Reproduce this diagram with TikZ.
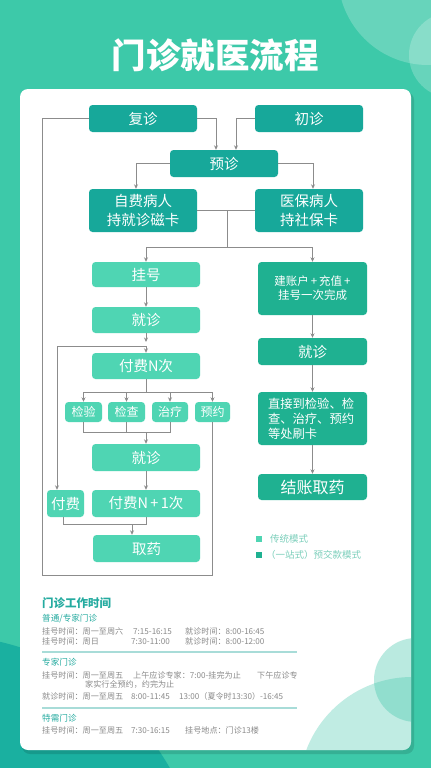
\documentclass[tikz,border=0pt]{standalone}
\usepackage{fontspec}
\setmainfont{Noto Sans CJK SC}
\usetikzlibrary{arrows.meta}
\definecolor{bgc}{HTML}{3DC9A9}
\definecolor{bgdark}{HTML}{1AB0A0}
\definecolor{topc}{HTML}{17A89A}
\definecolor{litec}{HTML}{4FD5B3}
\definecolor{rgtc}{HTML}{1FB191}
\definecolor{linec}{HTML}{8C8C8C}
\definecolor{headc}{HTML}{25ABA0}
\definecolor{greyt}{HTML}{8A8A8A}
\definecolor{legt}{HTML}{7CCFBB}
\definecolor{divc}{HTML}{A8DCD8}
\definecolor{mint}{HTML}{3CC4A8}
\begin{document}
\begin{tikzpicture}[x=1pt,y=-1pt,
  box/.style={rounded corners=3.5pt, inner sep=0pt, text=white, align=center,
    minimum width=108pt, minimum height=27pt, font=\fontsize{14.5}{19}\selectfont},
  tb/.style={box, fill=topc},
  lb/.style={box, fill=litec},
  rb/.style={box, fill=rgtc, minimum width=109pt},
  sb/.style={box, fill=litec, minimum width=36pt, minimum height=20pt, font=\fontsize{12}{14}\selectfont},
  ln/.style={draw=linec, line width=0.9pt},
  arr/.style={ln, -{Stealth[length=4.5pt,width=4pt]}},
  wt/.style={anchor=base west, inner sep=0pt, text=greyt, font=\fontsize{8.1}{9}\selectfont},
  wh/.style={anchor=base west, inner sep=0pt, text=headc, font=\fontsize{8.6}{10}\selectfont},
  lg/.style={anchor=base west, inner sep=0pt, text=legt, font=\fontsize{9.5}{11}\selectfont}
]
\useasboundingbox (0,0) rectangle (431,768);
% background
\fill[bgc] (0,0) rectangle (431,768);
\fill[bgdark] (-60,900) circle (265);
\fill[white,opacity=0.22] (428,-25) circle (90);
\fill[white,opacity=0.22] (452,55) circle (43);
% title
\node[text=white,font=\fontsize{34.5}{40}\selectfont\bfseries] (title) at (215,55) {门诊就医流程};
% card
\fill[black,opacity=0.12,rounded corners=8] (22,92) rectangle (414,754);
\fill[white,rounded corners=8] (20,89) rectangle (411,750);
\begin{scope}
\clip[rounded corners=8] (20,89) rectangle (411,750);
\fill[mint,opacity=0.32] (412,790) circle (113);
\fill[mint,opacity=0.35] (416,680) circle (42);
\end{scope}

% nodes
\node[tb] (fz) at (143,118.5) {复诊};
\node[tb] (cz) at (309,118.5) {初诊};
\node[tb] (yz) at (224,163.5) {预诊};
\node[tb,minimum height=43pt] (zf) at (143,210.5) {自费病人\\持就诊磁卡};
\node[tb,minimum height=43pt] (yb) at (309,210.5) {医保病人\\持社保卡};

\node[lb,minimum height=25pt] (gh) at (146,274.5) {挂号};
\node[lb,minimum height=26pt] (jz1) at (146,320) {就诊};
\node[lb,minimum height=26pt] (ff) at (146,366) {付费N次};
\node[sb,minimum width=37pt] (jy) at (83.5,412) {检验};
\node[sb,minimum width=37pt] (jc) at (126.5,412) {检查};
\node[sb] (zl) at (170,412) {治疗};
\node[sb,minimum width=35pt] (yy) at (212.5,412) {预约};
\node[lb] (jz2) at (146,457.5) {就诊};
\node[lb,minimum width=37pt] (fs) at (65.5,503.5) {付费};
\node[lb] (ff1) at (146,503.5) {付费N\,+\,1次};
\node[lb,minimum width=107pt] (qy) at (146.5,548.5) {取药};

\node[rb,minimum height=53pt,font=\fontsize{11.5}{14}\selectfont] (jzh) at (312.5,288.5) {建账户\,+\,充值\,+\\挂号一次完成};
\node[rb] (jzr) at (312.5,351.5) {就诊};
\node[rb,minimum height=53pt,align=left,font=\fontsize{12.3}{15}\selectfont] (zj) at (312.5,418.5) {\parbox{89pt}{直接到检验、检\\查、治疗、预约\\等处刷卡}};
\node[rb,minimum height=26pt,font=\fontsize{16}{19}\selectfont] (jy2) at (312.5,487) {结账取药};

% coordinates
\coordinate (xa) at (216,0);
\coordinate (xb) at (236,0);
\coordinate (xc) at (136,0);
\coordinate (xd) at (313,0);
\coordinate (j1) at (227,210.5);
\coordinate (j2) at (227,247);
\coordinate (j3) at (146,342);
\coordinate (j3b) at (146,346);
\coordinate (jl) at (57,346);
\coordinate (j4) at (146,392);
\coordinate (j4l) at (83.5,392);
\coordinate (j4r) at (212.5,392);
\coordinate (j5) at (146,432);
\coordinate (j5l) at (83.5,432);
\coordinate (j5r) at (170,432);
\coordinate (j6l) at (63,524);
\coordinate (j6r) at (146,524);
\coordinate (j6) at (132,524);
\coordinate (f1) at (212.5,575);
\coordinate (f2) at (42,575);
\coordinate (f3) at (42,118.5);

% connectors
\draw[arr] (fz.east) -| (yz.north -| xa);
\draw[arr] (cz.west) -| (yz.north -| xb);
\draw[arr] (yz.west) -| (zf.north -| xc);
\draw[arr] (yz.east) -| (yb.north -| xd);
\draw[ln] (zf.east) -- (yb.west);
\draw[ln] (j1) -- (j2);
\draw[arr] (j2) -| (gh.north);
\draw[arr] (j2) -| (jzh.north);
\draw[arr] (gh) -- (jz1);
\draw[arr] (jz1.south) -- (j3);
\draw[ln] (jl) -- (j3b);
\draw[arr] (j3b) -- (ff.north);
\draw[arr] (jl) -- (jl |- fs.north);
\draw[ln] (ff.south) -- (j4);
\draw[ln] (j4l) -- (j4r);
\draw[arr] (j4l) -- (jy.north);
\draw[arr] (j4 -| jc) -- (jc.north);
\draw[arr] (j4 -| zl) -- (zl.north);
\draw[arr] (j4r) -- (yy.north);
\draw[ln] (jy.south) -- (j5l) -- (j5r) -- (zl.south);
\draw[ln] (jc.south) -- (jc |- j5);
\draw[arr] (j5) -- (jz2.north);
\draw[arr] (jz2) -- (ff1);
\draw[ln] (fs.south -| j6l) -- (j6l) -- (j6r) -- (ff1.south);
\draw[arr] (j6) -- (qy.north -| j6);
\draw[ln] (yy.south) -- (f1) -- (f2) -- (f3) -- (fz.west);
\draw[arr] (jzh) -- (jzr);
\draw[arr] (jzr) -- (zj);
\draw[arr] (zj) -- (jy2);

% legend
\fill[litec] (256,536) rectangle (262,542);
\fill[rgtc] (256,552) rectangle (262,558);
\node[lg] (lg1) at (270,542.5) {传统模式};
\node[lg] (lg2) at (266,558.5) {（一站式）预交款模式};

% work time
\node[anchor=base west,inner sep=0pt,text=headc,font=\fontsize{11.5}{13}\selectfont\bfseries] (wh0) at (42,607) {门诊工作时间};
\node[wh] (wh1) at (42,621) {普通/专家门诊};
\node[wt] (a1) at (42,634) {挂号时间：周一至周六};
\node[wt] (a2) at (133,634) {7:15-16:15};
\node[wt] (a3) at (185,634) {就诊时间：8:00-16:45};
\node[wt] (b1) at (42,644.5) {挂号时间：周日};
\node[wt] (b2) at (131,644.5) {7:30-11:00};
\node[wt] (b3) at (185,644.5) {就诊时间：8:00-12:00};
\draw[divc,line width=1.1pt] (42,652) -- (297,652);
\node[wh] (wh2) at (42,665) {专家门诊};
\node[wt] (c1) at (42,678) {挂号时间：周一至周五};
\node[wt] (c2) at (133,678) {上午应诊专家：7:00-挂完为止};
\node[wt] (c3) at (257,678) {下午应诊专};
\node[wt] (c4) at (85,687.5) {家实行全预约，约完为止};
\node[wt] (d1) at (42,699) {就诊时间：周一至周五};
\node[wt] (d2) at (131,699) {8:00-11:45};
\node[wt] (d3) at (179,699) {13:00（夏令时13:30）-16:45};
\draw[divc,line width=1.1pt] (42,708) -- (297,708);
\node[wh] (wh3) at (42,721) {特需门诊};
\node[wt] (e1) at (42,733) {挂号时间：周一至周五};
\node[wt] (e2) at (131,733) {7:30-16:15};
\node[wt] (e3) at (185,733) {挂号地点：门诊13楼};
\end{tikzpicture}
\end{document}
